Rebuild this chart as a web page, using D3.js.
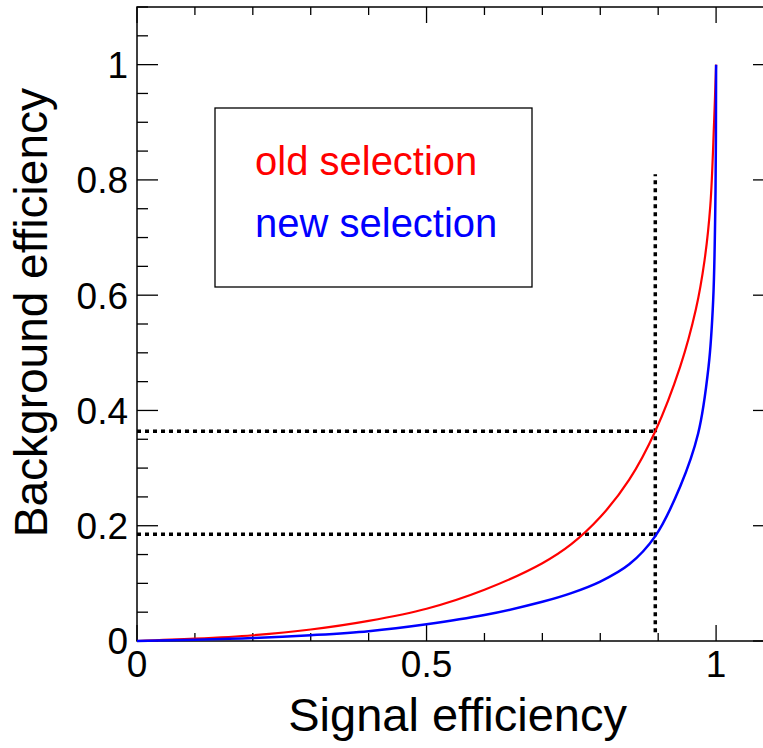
<!DOCTYPE html>
<html>
<head>
<meta charset="utf-8">
<script src="https://cdn.jsdelivr.net/npm/d3@7"></script>
<style>
  body { margin: 0; background: #fff; }
  text { font-family: "Liberation Sans", Arial, Helvetica, sans-serif; }
</style>
</head>
<body>
<div class="root"></div>
<script>
// ROC curves
const oldSig = [0, 0.1, 0.2, 0.3, 0.4, 0.5, 0.6, 0.7, 0.75, 0.8, 0.85, 0.895, 0.938, 0.965, 0.98, 0.99, 0.9965, 1]
const oldBkg = [0, 0.004, 0.010, 0.020, 0.035, 0.056, 0.089, 0.135, 0.168, 0.215, 0.280, 0.364, 0.476, 0.575, 0.66, 0.755, 0.899, 1]

const newSig = [0, 0.1, 0.2, 0.3, 0.4, 0.5, 0.6, 0.7, 0.75, 0.8, 0.85, 0.895, 0.938, 0.969, 0.987, 0.995, 0.999, 1]
const newBkg = [0, 0.002, 0.005, 0.010, 0.017, 0.029, 0.045, 0.068, 0.083, 0.103, 0.133, 0.182, 0.268, 0.360, 0.476, 0.592, 0.78, 1]

const seriesNames = ['old selection', 'new selection']
const seriesColors = ['#ff0000', '#0000ff']

// working point markers
const cutSig = 0.895
    , cutTop = 0.81
    , cutBkg = [0.364, 0.185]

const xMajor = [0, 0.5, 1]
    , yMajor = [0, 0.2, 0.4, 0.6, 0.8, 1]
    , xLabels = ['0', '0.5', '1']
    , yLabels = ['0', '0.2', '0.4', '0.6', '0.8', '1']

const svgWidth = 763
    , svgHeight = 748
    , padLeft = 137
    , padRight = 774
    , padTop = 7
    , padBottom = 641

const svg = d3.select('.root')
              .append('svg')
              .attr('width', svgWidth)
              .attr('height', svgHeight)

const x = d3.scaleLinear().domain([0, 1.1]).range([padLeft, padRight])
const y = d3.scaleLinear().domain([0, 1.1]).range([padBottom, padTop])

const xMinor = d3.range(0, 1.1001, 0.1).map(d => +d.toFixed(2))
const yMinor = d3.range(0, 1.1001, 0.05).map(d => +d.toFixed(2))

// frame
svg.append('rect')
   .attr('x', padLeft).attr('y', padTop)
   .attr('width', padRight - padLeft).attr('height', padBottom - padTop)
   .attr('fill', 'none').attr('stroke', '#000').attr('stroke-width', 1.5)

const isMajor = (v, list) => list.some(m => Math.abs(m - v) < 1e-6)

// ticks on all four sides, pointing inwards
const ticks = svg.append('g').attr('stroke', '#000').attr('stroke-width', 1.3)
xMinor.forEach(v => {
  const len = isMajor(v, xMajor) ? 16 : 8
  ticks.append('line').attr('x1', x(v)).attr('x2', x(v)).attr('y1', padBottom).attr('y2', padBottom - len)
  ticks.append('line').attr('x1', x(v)).attr('x2', x(v)).attr('y1', padTop).attr('y2', padTop + len)
})
yMinor.forEach(v => {
  const len = isMajor(v, yMajor) ? 21 : 11
  ticks.append('line').attr('y1', y(v)).attr('y2', y(v)).attr('x1', padLeft).attr('x2', padLeft + len)
  ticks.append('line').attr('y1', y(v)).attr('y2', y(v)).attr('x1', padRight).attr('x2', padRight - len)
})

// tick labels
svg.append('g').selectAll('text')
   .data(xMajor)
   .enter().append('text')
   .attr('x', d => x(d))
   .attr('y', 677)
   .attr('text-anchor', 'middle')
   .attr('font-size', 37)
   .text((d, i) => xLabels[i])

svg.append('g').selectAll('text')
   .data(yMajor)
   .enter().append('text')
   .attr('x', 128)
   .attr('y', d => y(d))
   .attr('dy', '0.36em')
   .attr('text-anchor', 'end')
   .attr('font-size', 37)
   .text((d, i) => yLabels[i])

// axis titles
svg.append('text')
   .attr('x', 627).attr('y', 731)
   .attr('text-anchor', 'end')
   .attr('font-size', 47)
   .text('Signal efficiency')

svg.append('text')
   .attr('transform', 'translate(47, 88) rotate(-90)')
   .attr('text-anchor', 'end')
   .attr('font-size', 46)
   .text('Background efficiency')

// dotted working point lines
const dots = svg.append('g')
                .attr('stroke', '#000')
                .attr('stroke-width', 3.5)
                .attr('stroke-dasharray', '4 4')
                .attr('fill', 'none')
dots.append('line').attr('x1', x(cutSig)).attr('x2', x(cutSig)).attr('y1', y(0.015)).attr('y2', y(cutTop))
cutBkg.forEach(b => {
  dots.append('line').attr('x1', x(0)).attr('x2', x(cutSig)).attr('y1', y(b)).attr('y2', y(b))
})

// curves
const line = d3.line()
               .x(d => x(d[0]))
               .y(d => y(d[1]))
               .curve(d3.curveCatmullRom.alpha(0.5))

const curves = [d3.zip(oldSig, oldBkg), d3.zip(newSig, newBkg)]
curves.forEach((pts, i) => {
  svg.append('path')
     .datum(pts)
     .attr('d', line)
     .attr('fill', 'none')
     .attr('stroke', seriesColors[i])
     .attr('stroke-width', i === 0 ? 2.2 : 2.5)
})

// legend
const legend = svg.append('g')
legend.append('rect')
      .attr('x', 215).attr('y', 108)
      .attr('width', 317).attr('height', 179)
      .attr('fill', '#fff').attr('stroke', '#000').attr('stroke-width', 1.3)
seriesNames.forEach((name, i) => {
  legend.append('text')
        .attr('x', 255).attr('y', 175 + i * 62)
        .attr('font-size', 40)
        .attr('fill', seriesColors[i])
        .text(name)
})
</script>
</body>
</html>
